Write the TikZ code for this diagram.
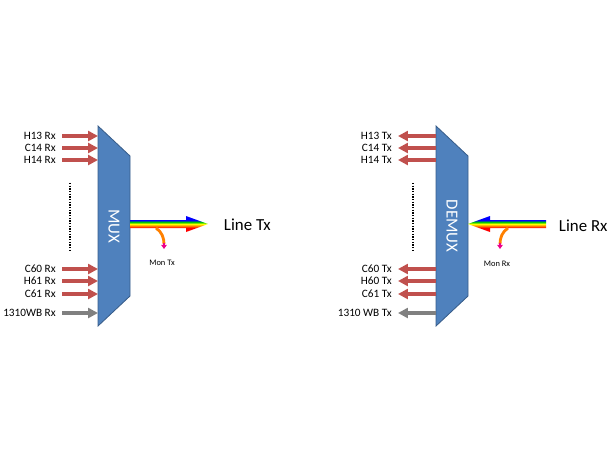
\documentclass[tikz,border=0pt]{standalone}
\usepackage{fontspec}
\setmainfont{Carlito}
\usepackage{tikz}
\usetikzlibrary{arrows.meta}
\pgfdeclareverticalshading{rainbow}{100bp}{color(0bp)=(red);color(38bp)=(red);color(44bp)=(orange);color(50bp)=(yellow);color(56bp)=(green!80!black);color(62bp)=(blue);color(100bp)=(blue)}
\definecolor{muxblue}{RGB}{79,129,189}
\definecolor{muxedge}{RGB}{56,93,138}
\definecolor{fibred}{RGB}{192,80,77}
\tikzset{
  block/.style={fill=muxblue,draw=muxedge,line width=0.6pt},
  chan/.style={-{Triangle[length=7pt,width=7pt]},line width=2.5pt,fibred},
  wbchan/.style={chan,gray},
  lbl/.style={font=\fontsize{8}{9}\selectfont,anchor=east,inner sep=0pt},
  dots/.style={densely dotted,line width=0.9pt},
}
\begin{document}
\begin{tikzpicture}[x=0.025cm,y=-0.025cm]
\useasboundingbox (0,0) rectangle (610,450);
% MUX
\draw[block] (98,126) -- (130,156) -- (130,296) -- (98,326) -- cycle;
\node[rotate=-90,text=white,font=\large] (mux) at (114,226) {MUX};
\foreach \y/\t in {136/H13 Rx,148/C14 Rx,160/H14 Rx,269/C60 Rx,281/H61 Rx,294/C61 Rx} {
  \draw[chan] (62,\y) -- (98,\y);
  \node[lbl] at (56,\y) {\t};
}
\draw[wbchan] (62,313) -- (98,313);
\node[lbl] at (56,313) {1310WB Rx};
\draw[dots] (70,183) -- (70,250);
\shade[shading=rainbow] (130,220) -- (186,220) -- (186,216) -- (208,224) -- (186,232) -- (186,228) -- (130,228) -- cycle;
\node[anchor=west,font=\fontsize{12}{14}\selectfont] (linetx) at (219,225) {Line Tx};
\draw[line width=2pt,orange] (156,228) .. controls (162,232) and (164,238) .. (164,244);
\draw[-{Triangle[length=3pt,width=4pt]},line width=0.8pt,magenta] (164,243) -- (164,249);
\node[font=\fontsize{6}{7}\selectfont] (montx) at (162,263) {Mon Tx};
% DEMUX
\draw[block] (436,126) -- (468,156) -- (468,296) -- (436,326) -- cycle;
\node[rotate=-90,text=white,font=\large] (demux) at (452,226) {DEMUX};
\foreach \y/\t in {136/H13 Tx,148/C14 Tx,160/H14 Tx,269/C60 Tx,281/H60 Tx,294/C61 Tx} {
  \draw[chan] (436,\y) -- (398,\y);
  \node[lbl] at (392,\y) {\t};
}
\draw[wbchan] (436,313) -- (398,313);
\node[lbl] at (392,313) {1310 WB Tx};
\draw[dots] (413,183) -- (413,250);
\shade[shading=rainbow] (546,220) -- (490,220) -- (490,216) -- (468,224) -- (490,232) -- (490,228) -- (546,228) -- cycle;
\node[anchor=west,font=\fontsize{12}{14}\selectfont] (linerx) at (554,226) {Line Rx};
\draw[line width=2pt,orange] (508,228) .. controls (502,232) and (500,238) .. (500,244);
\draw[-{Triangle[length=3pt,width=4pt]},line width=0.8pt,magenta] (500,243) -- (500,249);
\node[font=\fontsize{6}{7}\selectfont] (monrx) at (497,264) {Mon Rx};
\end{tikzpicture}
\end{document}
